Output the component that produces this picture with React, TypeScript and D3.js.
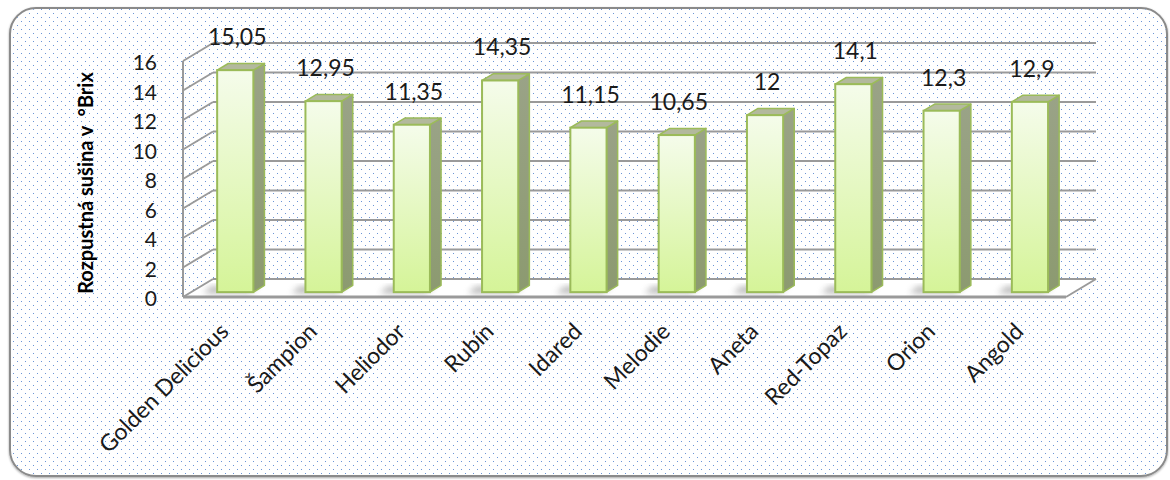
import React from "react";
import * as d3 from "d3";

const categories = ["Golden Delicious", "Šampion", "Heliodor", "Rubín", "Idared", "Melodie", "Aneta", "Red-Topaz", "Orion", "Angold"];
const values = [15.05, 12.95, 11.35, 14.35, 11.15, 10.65, 12, 14.1, 12.3, 12.9];
const yTicks = [0, 2, 4, 6, 8, 10, 12, 14, 16];
const yTitle = "Rozpustná sušina v\u00a0\u00a0°Brix";

const W = 1170;
const H = 480;
const FONT = "Lato, 'Open Sans', sans-serif";

export default function App() {
  const left = 183;
  const right = 1066;
  const bottom = 297;
  const top = 61;
  const depth = { x: 30, y: -18 };
  const x = d3.scaleBand<string>().domain(categories).range([left, right]).padding(0);
  const y = d3.scaleLinear().domain([0, 16]).range([bottom, top]);
  const bw = x.bandwidth() * 0.41;
  const t0 = 0.27;
  const tb = 0.37;
  const fo = { x: depth.x * t0, y: depth.y * t0 };
  const bd = { x: depth.x * tb, y: depth.y * tb };
  const fmt = (v: number) => String(v).replace(".", ",");
  const pts = (a: number[][]) => a.map((p) => p.join(",")).join(" ");
  const grid = "#9a9a9a";

  return (
    <svg width={W} height={H} style={{ position: "absolute", left: 0, top: 0, display: "block" }}>
      <defs>
        <pattern id="dots" width={8} height={8} patternUnits="userSpaceOnUse">
          <rect x={1} y={1} width={1} height={1} fill="#6b95d6" />
          <rect x={5} y={5} width={1} height={1} fill="#6b95d6" />
        </pattern>
        <linearGradient id="front" x1="0" y1="0" x2="0" y2="1">
          <stop offset="0" stopColor="#f5fceb" />
          <stop offset="1" stopColor="#d5f498" />
        </linearGradient>
        <linearGradient id="side" x1="0" y1="0" x2="0" y2="1">
          <stop offset="0" stopColor="#9aa387" />
          <stop offset="1" stopColor="#8c9a70" />
        </linearGradient>
        <filter id="blur" x="-50%" y="-50%" width="200%" height="200%">
          <feGaussianBlur stdDeviation="3" />
        </filter>
        <filter id="cshadow" x="-5%" y="-5%" width="110%" height="110%">
          <feDropShadow dx="0" dy="1" stdDeviation="1.2" floodColor="#000" floodOpacity="0.35" />
        </filter>
      </defs>
      <rect width={W} height={H} fill="#ffffff" />
      <rect x={10} y={8} width={1157} height={468} rx={26} ry={26} fill="#ffffff" stroke="#8a8a8a" strokeWidth={2} filter="url(#cshadow)" />
      <rect x={11} y={9} width={1155} height={466} rx={25} ry={25} fill="url(#dots)" />

      {/* floor */}
      <polygon
        points={pts([
          [left, y(0)],
          [left + depth.x, y(0) + depth.y],
          [right + depth.x, y(0) + depth.y],
          [right, y(0)],
        ])}
        fill="#ffffff"
      />
      {/* back wall gridlines and side wall diagonals */}
      {yTicks.map((t) => (
        <g key={t}>
          <line x1={left + depth.x} x2={right + depth.x} y1={y(t) + depth.y} y2={y(t) + depth.y} stroke={grid} strokeWidth={2} />
          <line x1={left} y1={y(t)} x2={left + depth.x} y2={y(t) + depth.y} stroke={grid} strokeWidth={2} />
        </g>
      ))}
      <line x1={left} x2={left} y1={y(0)} y2={y(16)} stroke={grid} strokeWidth={2} />
      <line x1={left} x2={right} y1={y(0)} y2={y(0)} stroke={grid} strokeWidth={3} />
      <line x1={right} y1={y(0)} x2={right + depth.x} y2={y(0) + depth.y} stroke={grid} strokeWidth={2} />

      {/* bar shadows */}
      {categories.map((c) => {
        const cx = (x(c) ?? 0) + x.bandwidth() / 2;
        const x0 = cx - bw / 2 + fo.x;
        const yb = y(0) + fo.y;
        return (
          <polygon
            key={"s" + c}
            points={pts([
              [x0 - 14, yb + 1],
              [x0 + bw - 4, yb + 1],
              [x0 + bw + bd.x - 6, yb + bd.y + 1],
              [x0 - 6, yb + bd.y + 1],
            ])}
            fill="#7a7a7a"
            opacity={0.55}
            filter="url(#blur)"
          />
        );
      })}

      {/* bars */}
      {categories.map((c, i) => {
        const v = values[i];
        const cx = (x(c) ?? 0) + x.bandwidth() / 2;
        const x0 = cx - bw / 2 + fo.x;
        const x1 = x0 + bw;
        const yb = y(0) + fo.y;
        const yt = y(v) + fo.y;
        return (
          <g key={c}>
            <polygon
              points={pts([
                [x1, yb],
                [x1, yt],
                [x1 + bd.x, yt + bd.y],
                [x1 + bd.x, yb + bd.y],
              ])}
              fill="url(#side)"
              stroke="#9bbb59"
              strokeWidth={1.5}
              strokeLinejoin="round"
            />
            <polygon
              points={pts([
                [x0, yt],
                [x1, yt],
                [x1 + bd.x, yt + bd.y],
                [x0 + bd.x, yt + bd.y],
              ])}
              fill="#b3b99d"
              stroke="#9bbb59"
              strokeWidth={1.5}
              strokeLinejoin="round"
            />
            <rect x={x0} y={yt} width={bw} height={yb - yt} fill="url(#front)" stroke="#9bbb59" strokeWidth={2} />
            <text x={cx + fo.x + 2} y={yt - 25} textAnchor="middle" fontFamily={FONT} fontSize={23} fill="#1a1a1a">
              {fmt(v)}
            </text>
          </g>
        );
      })}

      {/* y tick labels */}
      {yTicks.map((t) => (
        <text key={"t" + t} x={157} y={y(t) + 4} textAnchor="end" dominantBaseline="middle" fontFamily={FONT} fontSize={21} fill="#1a1a1a">
          {t}
        </text>
      ))}

      {/* y title */}
      <text
        transform={`translate(93,183) rotate(-90)`}
        textAnchor="middle"
        fontFamily={FONT}
        fontWeight="bold"
        fontSize={20}
        fill="#000"
      >
        {yTitle}
      </text>

      {/* category labels */}
      {categories.map((c) => {
        const cx = (x(c) ?? 0) + x.bandwidth() / 2;
        return (
          <text
            key={"c" + c}
            transform={`translate(${cx + 3},333) rotate(-45)`}
            textAnchor="end"
            fontFamily={FONT}
            fontSize={23}
            fill="#1a1a1a"
          >
            {c}
          </text>
        );
      })}
    </svg>
  );
}
